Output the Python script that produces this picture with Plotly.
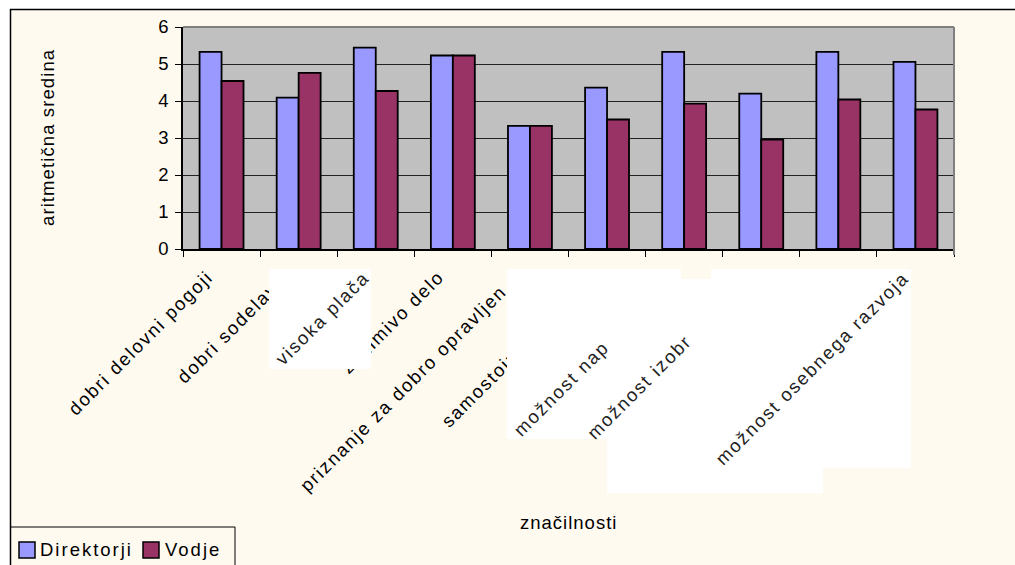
import plotly.graph_objects as go

# Survey categories (job characteristics) and mean scores per group
categories = [
    "dobri delovni pogoji",
    "dobri sodelavci",
    "visoka plača",
    "zanimivo delo",
    "priznanje za dobro opravljen...",
    "samostojnost pri delu",
    "možnost napredovanja",
    "možnost izobraževanja",
    "varnost zaposlitve",
    "možnost osebnega razvoja",
]
direktorji = [5.33, 4.09, 5.44, 5.23, 3.33, 4.36, 5.33, 4.20, 5.33, 5.06]
vodje = [4.54, 4.76, 4.27, 5.23, 3.33, 3.50, 3.93, 2.96, 4.04, 3.77]

series_names = ["Direktorji", "Vodje"]
series_colors = ["#9999FF", "#993366"]

y_ticks = [0, 1, 2, 3, 4, 5, 6]

FONT = "Liberation Sans, Arial, sans-serif"
FS = 18.5
CREAM = "#FFFAF0"

# plot-area box in pixels (used to convert decoration positions to paper coords)
L, R, T, B = 183, 954, 27, 249


def px(x):
    return (x - L) / (R - L)


def py(y):
    return (B - y) / (B - T)


def spaced(text, ls=1.8, color=None):
    style = f"letter-spacing:{ls}px"
    if color:
        style += f";color:{color}"
    return f"<span style='{style}'>{text}</span>"


fig = go.Figure()
for name, vals, col in zip(series_names, [direktorji, vodje], series_colors):
    fig.add_trace(go.Bar(
        x=categories, y=vals, name=name,
        marker=dict(color=col, line=dict(color="black", width=1.8)),
    ))

shapes = []
# white strip outside the chart frame and the frame lines
shapes.append(dict(type="rect", xref="paper", yref="paper", layer="below",
                   x0=px(-5), x1=px(1030), y0=py(-5), y1=py(9),
                   fillcolor="white", line=dict(width=0)))
shapes.append(dict(type="rect", xref="paper", yref="paper", layer="below",
                   x0=px(-5), x1=px(10), y0=py(9), y1=py(580),
                   fillcolor="white", line=dict(width=0)))
shapes.append(dict(type="line", xref="paper", yref="paper", layer="below",
                   x0=px(10), x1=px(1030), y0=py(9.5), y1=py(9.5),
                   line=dict(color="black", width=1.5)))
shapes.append(dict(type="line", xref="paper", yref="paper", layer="below",
                   x0=px(10.5), x1=px(10.5), y0=py(9), y1=py(580),
                   line=dict(color="black", width=1.5)))
# grey top/right border of the plot area
shapes.append(dict(type="line", xref="paper", yref="paper", layer="above",
                   x0=0, x1=1, y0=1, y1=1, line=dict(color="#808080", width=2)))
shapes.append(dict(type="line", xref="paper", yref="paper", layer="above",
                   x0=1, x1=1, y0=py(255), y1=1, line=dict(color="#808080", width=2)))

# legend: frame, colour keys and names
shapes.append(dict(type="rect", xref="paper", yref="paper", layer="below",
                   x0=px(10.5), x1=px(235), y0=py(580), y1=py(527),
                   line=dict(color="black", width=1)))
legend_keys = [(19, 38), (143, 163)]
annotations = []
for (kx, tx), name, col in zip(legend_keys, series_names, series_colors):
    shapes.append(dict(type="rect", xref="paper", yref="paper", layer="above",
                       x0=px(kx), x1=px(kx + 16), y0=py(558), y1=py(542),
                       fillcolor=col, line=dict(color="black", width=1.5)))
    annotations.append(dict(
        x=px(tx), y=py(549), xref="paper", yref="paper", text=spaced(name, 2.0),
        showarrow=False, xanchor="left", yanchor="middle",
        font=dict(family=FONT, size=FS, color="black"),
    ))

# white label panels laid over the category axis
for x0, y0, x1, y1 in [(269, 269, 371, 369), (507, 269, 681, 439),
                       (607, 279, 823, 493), (711, 269, 911, 468)]:
    shapes.append(dict(type="rect", xref="paper", yref="paper", layer="above",
                       x0=px(x0), x1=px(x1), y0=py(y1), y1=py(y0),
                       fillcolor="white", line=dict(width=0)))

# labels shown on the white panels (cut where the next panel overlaps)
clear = "rgba(0,0,0,0)"
panel_labels = [
    (categories[2], spaced("visoka plača")),
    (categories[6], spaced("možnost nap") + spaced("redovanja", color=clear)),
    (categories[7], spaced("možnost izobr") + spaced("aževanja", color=clear)),
    (categories[9], spaced("možnost osebnega razvoja")),
]
for cat, txt in panel_labels:
    annotations.append(dict(
        x=cat, y=0, xref="x", yref="y", text=txt, showarrow=False,
        textangle=-45, xanchor="right", yanchor="top", xshift=0, yshift=-16,
        font=dict(family=FONT, size=FS, color="#222"),
    ))

# axis titles
annotations.append(dict(
    x=px(47), y=0.5, xref="paper", yref="paper", text=spaced("aritmetična sredina", 1.1),
    showarrow=False, textangle=-90, xanchor="center", yanchor="middle",
    font=dict(family=FONT, size=FS, color="black"),
))
annotations.append(dict(
    x=0.5, y=py(522), xref="paper", yref="paper", text=spaced("značilnosti", 1.0),
    showarrow=False, xanchor="center", yanchor="middle",
    font=dict(family=FONT, size=FS, color="black"),
))

fig.update_layout(
    width=1015, height=565,
    margin=dict(l=L, r=1015 - R, t=T, b=565 - B, autoexpand=False),
    paper_bgcolor=CREAM, plot_bgcolor="#C0C0C0",
    font=dict(family=FONT, size=FS, color="black"),
    barmode="group", bargap=0.43, bargroupgap=0,
    showlegend=False,
    shapes=shapes, annotations=annotations,
)
fig.update_xaxes(
    type="category", tickmode="array", tickvals=categories,
    ticktext=[spaced(c) for c in categories], tickangle=-45,
    ticklabelshift=-14, ticklabelstandoff=8,
    ticks="outside", tickson="boundaries", ticklen=6, tickcolor="black",
    showline=True, linecolor="black", linewidth=1.5, showgrid=False,
    tickfont=dict(family=FONT, size=FS, color="black"),
)
fig.update_yaxes(
    range=[0, 6], tickmode="array", tickvals=y_ticks,
    ticks="outside", ticklen=6, tickcolor="black", ticklabelstandoff=3,
    showline=True, linecolor="black", linewidth=1.5,
    showgrid=True, gridcolor="#222", gridwidth=1, zeroline=False,
    tickfont=dict(family=FONT, size=FS, color="black"),
)

fig.write_html("out.html")
